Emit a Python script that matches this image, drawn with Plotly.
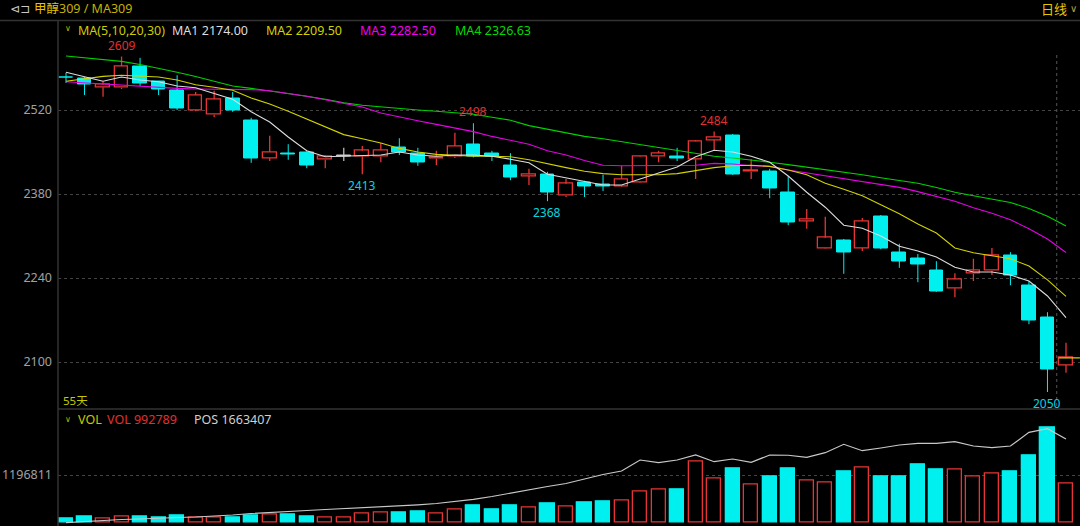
import plotly.graph_objects as go

# ---------------- data ----------------
opens  = [2575, 2572, 2558, 2557, 2593, 2567, 2553, 2520, 2512, 2540,
          2502, 2440, 2448, 2450, 2437, 2443, 2443, 2442, 2458, 2448,
          2439, 2442, 2463, 2447, 2428, 2410, 2413, 2377, 2400, 2396,
          2393, 2400, 2443, 2443, 2438, 2470, 2477, 2417, 2418, 2383,
          2335, 2290, 2303, 2290, 2342, 2283, 2272, 2253, 2223, 2247,
          2252, 2278, 2228, 2175, 2095]
highs  = [2582, 2575, 2567, 2609, 2607, 2568, 2578, 2550, 2552, 2550,
          2507, 2477, 2463, 2451, 2445, 2457, 2460, 2465, 2473, 2457,
          2452, 2482, 2498, 2452, 2448, 2422, 2417, 2405, 2402, 2412,
          2427, 2443, 2452, 2457, 2470, 2484, 2480, 2438, 2422, 2410,
          2355, 2342, 2305, 2340, 2345, 2297, 2280, 2268, 2248, 2272,
          2290, 2283, 2235, 2183, 2132]
lows   = [2565, 2545, 2542, 2555, 2560, 2545, 2520, 2518, 2508, 2517,
          2432, 2435, 2437, 2423, 2423, 2435, 2413, 2433, 2445, 2427,
          2428, 2440, 2441, 2435, 2403, 2395, 2368, 2375, 2375, 2385,
          2392, 2399, 2433, 2435, 2405, 2452, 2412, 2405, 2373, 2328,
          2322, 2289, 2247, 2285, 2288, 2257, 2233, 2217, 2208, 2235,
          2245, 2228, 2163, 2050, 2082]
closes = [2574, 2562, 2562, 2593, 2565, 2555, 2523, 2545, 2538, 2520,
          2440, 2450, 2446, 2427, 2442, 2443, 2452, 2453, 2450, 2432,
          2441, 2460, 2443, 2442, 2407, 2413, 2383, 2397, 2392, 2393,
          2405, 2442, 2448, 2440, 2468, 2475, 2413, 2419, 2390, 2333,
          2338, 2307, 2283, 2335, 2290, 2268, 2263, 2218, 2238, 2252,
          2278, 2245, 2170, 2088, 2107]

ma1 = [2583, 2576, 2568, 2575, 2570, 2567, 2560, 2557, 2547, 2538,
       2517, 2500, 2475, 2452, 2442, 2443, 2445, 2445, 2450, 2445,
       2443, 2445, 2445, 2443, 2438, 2432, 2413, 2407, 2400, 2395,
       2395, 2405, 2415, 2425, 2442, 2453, 2450, 2443, 2433, 2410,
       2383, 2358, 2328, 2323, 2310, 2293, 2285, 2275, 2258, 2250,
       2250, 2245, 2235, 2210, 2174.00]
ma2 = [2568, 2572, 2576, 2578, 2577, 2575, 2570, 2562, 2558, 2553,
       2540, 2530, 2518, 2505, 2492, 2479, 2472, 2465, 2456, 2450,
       2446, 2444, 2443, 2443, 2442, 2437, 2430, 2424, 2418, 2414,
       2412, 2412, 2412, 2414, 2419, 2424, 2427, 2428, 2426, 2420,
       2412, 2398, 2388, 2377, 2362, 2347, 2330, 2315, 2290, 2282,
       2277, 2272, 2260, 2237, 2209.50]
ma3 = [2567, 2565, 2563, 2561, 2559, 2557, 2556, 2555, 2555, 2555,
       2554, 2552, 2548, 2543, 2537, 2531, 2525, 2515, 2508, 2502,
       2496, 2490, 2484, 2476, 2470, 2463, 2452, 2445, 2436, 2428,
       2427, 2427, 2427, 2428, 2428, 2431, 2430, 2427, 2426, 2420,
       2415, 2410, 2405, 2401, 2396, 2391, 2384, 2376, 2368, 2357,
       2348, 2337, 2322, 2305, 2282.50]
ma4 = [2610, 2607, 2604, 2601, 2596, 2590, 2583, 2576, 2568, 2560,
       2556, 2552, 2548, 2543, 2538, 2532, 2528, 2525, 2522, 2520,
       2518, 2516, 2513, 2508, 2503, 2494, 2488, 2482, 2476, 2472,
       2467, 2463, 2458, 2453, 2447, 2443, 2440, 2437, 2433, 2429,
       2425, 2421, 2416, 2412, 2407, 2403, 2398, 2391, 2383, 2377,
       2372, 2366, 2356, 2343, 2326.63]

volumes = [94000, 145000, 94000, 145000, 145000, 120000, 171000, 120000, 120000, 127000,
           171000, 196000, 196000, 145000, 120000, 120000, 211000, 247000, 247000, 280000,
           211000, 323000, 415000, 323000, 415000, 364000, 466000, 390000, 491000, 517000,
           542000, 789000, 833000, 815000, 1528000, 1113000, 1357000, 960000, 1164000, 1357000,
           1062000, 1011000, 1291000, 1383000, 1164000, 1164000, 1459000, 1342000, 1332000, 1164000,
           1240000, 1291000, 1706000, 2401000, 992789]
positions = [491600, 508400, 522400, 536400, 543400, 557400, 564400, 571400, 581200, 599400,
             620400, 637200, 648400, 662400, 676400, 687600, 701600, 717000, 728200, 742200,
             760400, 788400, 819200, 858400, 907400, 949400, 998400, 1040400, 1103400, 1166400,
             1215400, 1369400, 1331600, 1369400, 1439400, 1345600, 1383400, 1337200, 1439400, 1436000,
             1407200, 1471600, 1589200, 1499600, 1537400, 1579400, 1603200, 1601000, 1625600, 1565400,
             1541600, 1565400, 1757200, 1807600, 1663407]

price_ticks = [2100, 2240, 2380, 2520]
vol_ticks = [1196811]
peak_idx = [3, 22, 35]
trough_idx = [16, 26, 53]
n_days = len(closes)

# ---------------- styling ----------------
RED = '#e83434'
CYAN = '#00f0f0'
FLAT = '#c8c8c8'
FONT = 'Noto Sans, Noto Sans CJK SC, sans-serif'
W, H = 1080, 526

def py(px):  # pixel row -> paper y
    return (H - px) / H

def pxx(px):  # pixel column -> paper x
    return px / W

idx = list(range(n_days))
fig = go.Figure()

# wicks
wx_up, wy_up, wx_dn, wy_dn, wx_fl, wy_fl = [], [], [], [], [], []
for i, (o, h, l, c) in enumerate(zip(opens, highs, lows, closes)):
    if c > o:
        wx_up += [i, i, None, i, i, None]
        wy_up += [h, c, None, o, l, None]
    elif c < o:
        wx_dn += [i, i, None]
        wy_dn += [h, l, None]
    else:
        wx_fl += [i, i, None]
        wy_fl += [h, l, None]

fig.add_trace(go.Scatter(x=wx_dn, y=wy_dn, mode='lines', line=dict(color=CYAN, width=1),
                         hoverinfo='skip', xaxis='x', yaxis='y'))
fig.add_trace(go.Scatter(x=wx_up, y=wy_up, mode='lines', line=dict(color=RED, width=1.3),
                         hoverinfo='skip', xaxis='x', yaxis='y'))
fig.add_trace(go.Scatter(x=wx_fl, y=wy_fl, mode='lines', line=dict(color=FLAT, width=1.2),
                         hoverinfo='skip', xaxis='x', yaxis='y'))

# bodies
def bodies(cond, fill, line, lw):
    xs, bases, hs = [], [], []
    for i, (o, c) in enumerate(zip(opens, closes)):
        if cond(o, c):
            xs.append(i)
            bases.append(min(o, c))
            hs.append(max(abs(c - o), 0.9))
    fig.add_trace(go.Bar(x=xs, y=hs, base=bases, width=0.74,
                         marker=dict(color=fill, line=dict(color=line, width=lw)),
                         hoverinfo='skip', xaxis='x', yaxis='y'))

bodies(lambda o, c: c > o, 'black', RED, 1.3)
bodies(lambda o, c: c < o, CYAN, CYAN, 1)
bodies(lambda o, c: c == o, FLAT, FLAT, 1)

# moving averages
for vals, col in [(ma4, '#00d200'), (ma3, '#e600e6'), (ma2, '#d2d200'), (ma1, '#dcdcdc')]:
    fig.add_trace(go.Scatter(x=idx, y=vals, mode='lines', line=dict(color=col, width=1.1),
                             hoverinfo='skip', xaxis='x', yaxis='y'))

# last price line
fig.add_trace(go.Scatter(x=[n_days - 1 - 0.4, n_days - 0.25], y=[closes[-1], closes[-1]],
                         mode='lines', line=dict(color='#d2d200', width=1.2),
                         hoverinfo='skip', xaxis='x', yaxis='y'))

# volume bars
vcol_fill = ['black' if c >= o else CYAN for o, c in zip(opens, closes)]
vcol_line = [RED if c >= o else CYAN for o, c in zip(opens, closes)]
fig.add_trace(go.Bar(x=idx, y=volumes, width=0.76,
                     marker=dict(color=vcol_fill, line=dict(color=vcol_line, width=1.3)),
                     hoverinfo='skip', xaxis='x2', yaxis='y2'))
# open interest
fig.add_trace(go.Scatter(x=idx, y=positions, mode='lines', line=dict(color='#c8c8c8', width=1.2),
                         hoverinfo='skip', xaxis='x2', yaxis='y3'))

# ---------------- axes ----------------
x_range = [-0.432, 54.756]
main_dom = [py(408.5), py(20.5)]
vol_dom = [0, py(409.5)]
fig.update_layout(
    width=W, height=H, margin=dict(l=0, r=0, t=0, b=0),
    paper_bgcolor='black', plot_bgcolor='black', showlegend=False,
    barmode='overlay', bargap=0,
    font=dict(family=FONT, size=12, color='#a0a0a0'),
    xaxis=dict(domain=[pxx(58), 1], range=x_range, visible=False, anchor='y', fixedrange=True),
    yaxis=dict(domain=main_dom, range=[2022.5, 2669.2], tickvals=price_ticks,
               ticktext=[str(v) for v in price_ticks],
               showgrid=True, gridcolor='#444444', griddash='dot', gridwidth=1,
               zeroline=False, showline=False, ticks='', ticklabelstandoff=5,
               tickfont=dict(color='#a0a0a0', size=12.5, family=FONT), anchor='x', fixedrange=True),
    xaxis2=dict(domain=[pxx(58), 1], range=x_range, visible=False, anchor='y2', matches='x'),
    yaxis2=dict(domain=vol_dom, range=[-101856, 2864700], tickvals=vol_ticks,
                ticktext=[str(v) for v in vol_ticks],
                showgrid=True, gridcolor='#444444', griddash='dot', gridwidth=1,
                zeroline=False, showline=False, ticks='', ticklabelstandoff=5,
                tickfont=dict(color='#a0a0a0', size=12.5, family=FONT), anchor='x2', fixedrange=True),
    yaxis3=dict(overlaying='y2', range=[445407, 2076407], visible=False, anchor='x2'),
)

# frame lines
shapes = [
    dict(type='line', xref='paper', yref='paper', x0=0, x1=1, y0=py(20.5), y1=py(20.5),
         line=dict(color='#333333', width=1.5)),
    dict(type='line', xref='paper', yref='paper', x0=pxx(58), x1=1, y0=py(409), y1=py(409),
         line=dict(color='#333333', width=1.5)),
    dict(type='line', xref='paper', yref='paper', x0=pxx(58), x1=pxx(58), y0=0, y1=py(20.5),
         line=dict(color='#333333', width=1.5)),
    dict(type='line', xref='x', yref='paper', x0=n_days - 1.5, x1=n_days - 1.5,
         y0=py(406), y1=py(55), line=dict(color='#555555', width=1, dash='dot')),
]
fig.update_layout(shapes=shapes)

# ---------------- texts ----------------
ann = []
def txt(x, y, s, color, size=12, xanchor='left', family=FONT):
    ann.append(dict(x=pxx(x), y=py(y), xref='paper', yref='paper', text=s, showarrow=False,
                    xanchor=xanchor, yanchor='middle', font=dict(color=color, size=size, family=family)))

txt(8, 9, '⊲⊐', '#c8c8c8', 12, family='DejaVu Sans')
txt(32, 9, '<span style="color:#e6c200">甲醇</span>309 / MA309', '#c8b000', 12.5)
txt(1039, 9, '日线', '#e6c800', 13)
txt(1068, 8, '∨', '#b0a040', 10, family='DejaVu Sans')

txt(63, 29, '∨', '#b8b800', 8, family='DejaVu Sans')
txt(76, 30, 'MA(5,10,20,30)', '#cccc00', 12.5)
txt(170, 30, f'MA1 {ma1[-1]:.2f}', '#dcdcdc', 12.5)
txt(264, 30, f'MA2 {ma2[-1]:.2f}', '#d2d200', 12.5)
txt(358, 30, f'MA3 {ma3[-1]:.2f}', '#f000f0', 12.5)
txt(453, 30, f'MA4 {ma4[-1]:.2f}', '#00dc00', 12.5)

txt(61, 400, '55天', '#c8c800', 11.5)

txt(63, 419, '∨', '#b8b800', 8, family='DejaVu Sans')
txt(76, 420, 'VOL', '#c8c800', 12.5)
txt(105, 420, f'VOL {volumes[-1]}', '#e03030', 12.5)
txt(192, 420, f'POS {positions[-1]}', '#d0d0d0', 12.5)

for i in peak_idx:
    ann.append(dict(x=i, y=highs[i], xref='x', yref='y', text=f'{highs[i]}', showarrow=False,
                    yanchor='bottom', yshift=1, font=dict(color='#e03030', size=12, family=FONT)))
for i in trough_idx:
    ann.append(dict(x=i, y=lows[i], xref='x', yref='y', text=f'{lows[i]}', showarrow=False,
                    yanchor='top', yshift=-1, font=dict(color='#00d8e0', size=12, family=FONT)))

fig.update_layout(annotations=ann)
fig.write_html('out.html', config={'displayModeBar': False},
               post_script="document.body.style.margin='0';document.body.style.background='black';")
